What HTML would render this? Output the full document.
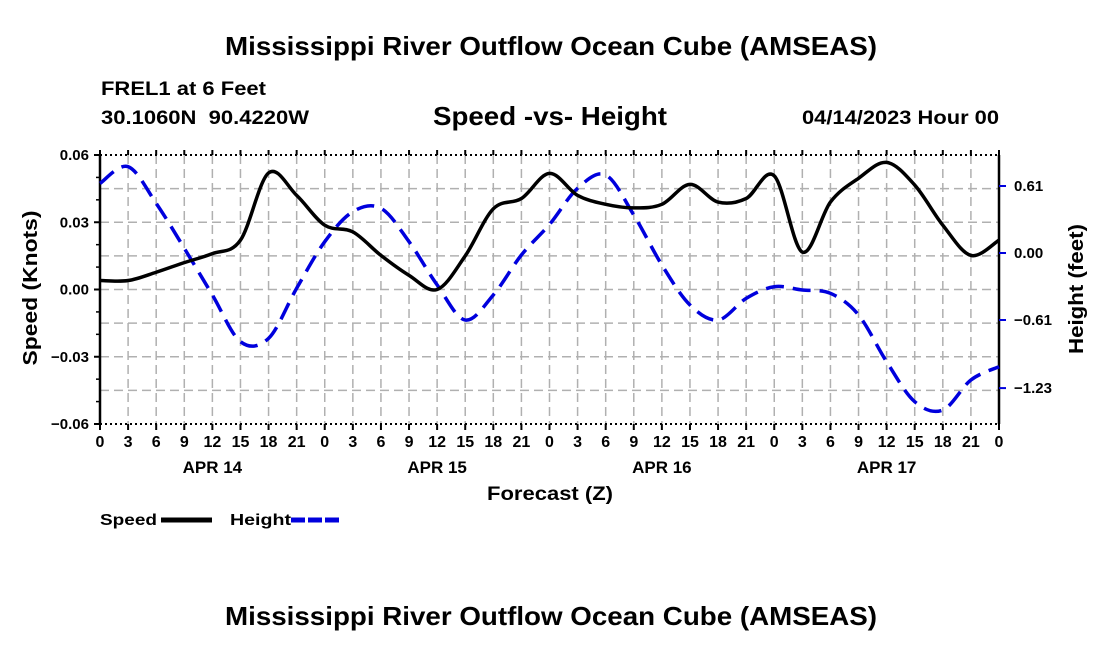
<!DOCTYPE html>
<html><head><meta charset="utf-8"><style>
body{margin:0;background:#fff;}
svg text{font-family:"Liberation Sans",sans-serif;font-weight:bold;}
</style></head><body>
<svg id="chart" width="1100" height="650" xmlns="http://www.w3.org/2000/svg">
<text x="551" y="55" font-size="26" text-anchor="middle" textLength="652" lengthAdjust="spacingAndGlyphs">Mississippi River Outflow Ocean Cube (AMSEAS)</text>
<text x="101" y="95" font-size="19" textLength="165" lengthAdjust="spacingAndGlyphs">FREL1 at 6 Feet</text>
<text x="101" y="124" font-size="19" textLength="208" lengthAdjust="spacingAndGlyphs" xml:space="preserve">30.1060N  90.4220W</text>
<text x="550" y="125" font-size="26" text-anchor="middle" textLength="234" lengthAdjust="spacingAndGlyphs">Speed -vs- Height</text>
<text x="802" y="124" font-size="19" textLength="197" lengthAdjust="spacingAndGlyphs">04/14/2023 Hour 00</text>
<text x="487" y="500" font-size="19" textLength="126" lengthAdjust="spacingAndGlyphs">Forecast (Z)</text>
<text transform="translate(37,288) rotate(-90)" font-size="20" text-anchor="middle" textLength="155" lengthAdjust="spacingAndGlyphs">Speed (Knots)</text>
<text transform="translate(1083,289) rotate(-90)" font-size="20" text-anchor="middle" textLength="130" lengthAdjust="spacingAndGlyphs">Height (feet)</text>
<g>
<text x="100" y="525" font-size="16" textLength="57" lengthAdjust="spacingAndGlyphs">Speed</text>
<line x1="161" y1="520" x2="212" y2="520" stroke="#000" stroke-width="5"/>
<text x="230" y="525" font-size="16" textLength="61" lengthAdjust="spacingAndGlyphs">Height</text>
<line x1="291" y1="520" x2="342" y2="520" stroke="#0000dd" stroke-width="5" stroke-dasharray="14,3"/>
</g>
<text x="551" y="625" font-size="26" text-anchor="middle" textLength="652" lengthAdjust="spacingAndGlyphs">Mississippi River Outflow Ocean Cube (AMSEAS)</text>
<g id="plot"></g>
</svg>
<script>
const hours = [0,3,6,9,12,15,18,21,24,27,30,33,36,39,42,45,48,51,54,57,60,63,66,69,72,75,78,81,84,87,90,93,96];
const speedValues = [0.004,0.004,0.0077,0.012,0.016,0.022,0.052,0.042,0.0287,0.0257,0.0152,0.0063,0.0,0.015,0.036,0.0406,0.0518,0.042,0.038,0.0364,0.038,0.0469,0.039,0.0406,0.0507,0.0167,0.039,0.0496,0.0567,0.0466,0.0287,0.0152,0.022];
const heightValues = [0.634,0.786,0.452,0.043,-0.382,-0.807,-0.777,-0.321,0.103,0.376,0.407,0.103,-0.29,-0.61,-0.382,-0.018,0.26,0.589,0.71,0.346,-0.109,-0.473,-0.61,-0.413,-0.307,-0.337,-0.367,-0.564,-0.99,-1.354,-1.43,-1.156,-1.035];
const leftTicks = [0.06,0.03,0.00,-0.03,-0.06];
const leftTickLabels = ["0.06","0.03","0.00","\u22120.03","\u22120.06"];
const rightTicks = [0.61,0.00,-0.61,-1.23];
const rightTickLabels = ["0.61","0.00","\u22120.61","\u22121.23"];
const xTickLabels = ["0","3","6","9","12","15","18","21","0","3","6","9","12","15","18","21","0","3","6","9","12","15","18","21","0","3","6","9","12","15","18","21","0"];
const dayLabels = ["APR 14","APR 15","APR 16","APR 17"];

const NS="http://www.w3.org/2000/svg";
const g=document.getElementById('plot');
const L=100,R=999,T=155,B=424;
const xS=h=>L+(h/96)*(R-L);
const yL=v=>T+(0.06-v)/0.12*(B-T);
const rZero=253, rPerFt=67/0.61;
const yR=v=>rZero-v*rPerFt;
function mk(t,a){const e=document.createElementNS(NS,t);for(const k in a)e.setAttribute(k,a[k]);g.appendChild(e);return e;}
let e;

[0.045,0.03,0.015,0,-0.015,-0.03,-0.045].forEach(v=>{
  const y=yL(v);
  e=mk('line',{x1:L,x2:R,y1:y,y2:y,stroke:'#b0b0b0','stroke-width':1.5,'stroke-dasharray':'9,5'});
  
  
});
hours.forEach((h,i)=>{
  if(i===0||i===hours.length-1)return;
  const x=xS(h);
  e=mk('line',{x1:x,x2:x,y1:T,y2:B,stroke:'#b0b0b0','stroke-width':1.5,'stroke-dasharray':'9,5'});
  
  
});
e=mk('line',{x1:L,x2:R,y1:T,y2:T,stroke:'#000','stroke-width':2,'stroke-dasharray':'2,3'});


e=mk('line',{x1:L,x2:R,y1:B,y2:B,stroke:'#000','stroke-width':2,'stroke-dasharray':'2,3'});


e=mk('line',{x1:L,x2:L,y1:T,y2:B,stroke:'#000','stroke-width':2.5});


e=mk('line',{x1:R,x2:R,y1:T,y2:B,stroke:'#000','stroke-width':2.5});



leftTicks.forEach((v,i)=>{
  const y=yL(v);
  e=mk('line',{x1:L-6,x2:L,y1:y,y2:y,stroke:'#000','stroke-width':2});
  
  
  e=mk('text',{x:L-11,y:y+5,'font-size':15,'text-anchor':'end'});
  e.textContent=leftTickLabels[i];
  
  
});
for(let k=-5;k<=5;k++){
  if(k%3===0)continue;
  const y=yL(k*0.01);
  e=mk('line',{x1:L-4,x2:L,y1:y,y2:y,stroke:'#000','stroke-width':1.5});
  
  
}
rightTicks.forEach((v,i)=>{
  const y=yR(v);
  e=mk('line',{x1:R,x2:R+7,y1:y,y2:y,stroke:'#0000dd','stroke-width':2});
  
  
  e=mk('text',{x:R+15,y:y+5,'font-size':15});
  e.textContent=rightTickLabels[i];
  
  
});
hours.forEach((h,i)=>{
  const x=xS(h);
  e=mk('line',{x1:x,x2:x,y1:B,y2:B+6,stroke:'#000','stroke-width':2});
  
  
  e=mk('line',{x1:x,x2:x,y1:T-5,y2:T,stroke:'#000','stroke-width':2});
  
  
  e=mk('text',{x:x,y:B+23,'font-size':16,'text-anchor':'middle'});
  e.textContent=xTickLabels[i];
  
  
});
dayLabels.forEach((d,i)=>{
  e=mk('text',{x:xS(12+24*i),y:B+49,'font-size':17,'text-anchor':'middle'});
  e.textContent=d;
  
  
});

function smooth(pts){
  let d='M'+pts[0][0]+','+pts[0][1];
  for(let i=0;i<pts.length-1;i++){
    const p0=pts[Math.max(0,i-1)],p1=pts[i],p2=pts[i+1],p3=pts[Math.min(pts.length-1,i+2)];
    const c1x=p1[0]+(p2[0]-p0[0])/6,c1y=p1[1]+(p2[1]-p0[1])/6;
    const c2x=p2[0]-(p3[0]-p1[0])/6,c2y=p2[1]-(p3[1]-p1[1])/6;
    d+=' C'+c1x+','+c1y+' '+c2x+','+c2y+' '+p2[0]+','+p2[1];
  }
  return d;
}
e=mk('path',{d:smooth(hours.map((h,i)=>[xS(h),yR(heightValues[i])])),fill:'none',stroke:'#0000dd','stroke-width':3.5,'stroke-dasharray':'18,9'});


e=mk('path',{d:smooth(hours.map((h,i)=>[xS(h),yL(speedValues[i])])),fill:'none',stroke:'#000','stroke-width':3.5});


</script>
</body></html>
